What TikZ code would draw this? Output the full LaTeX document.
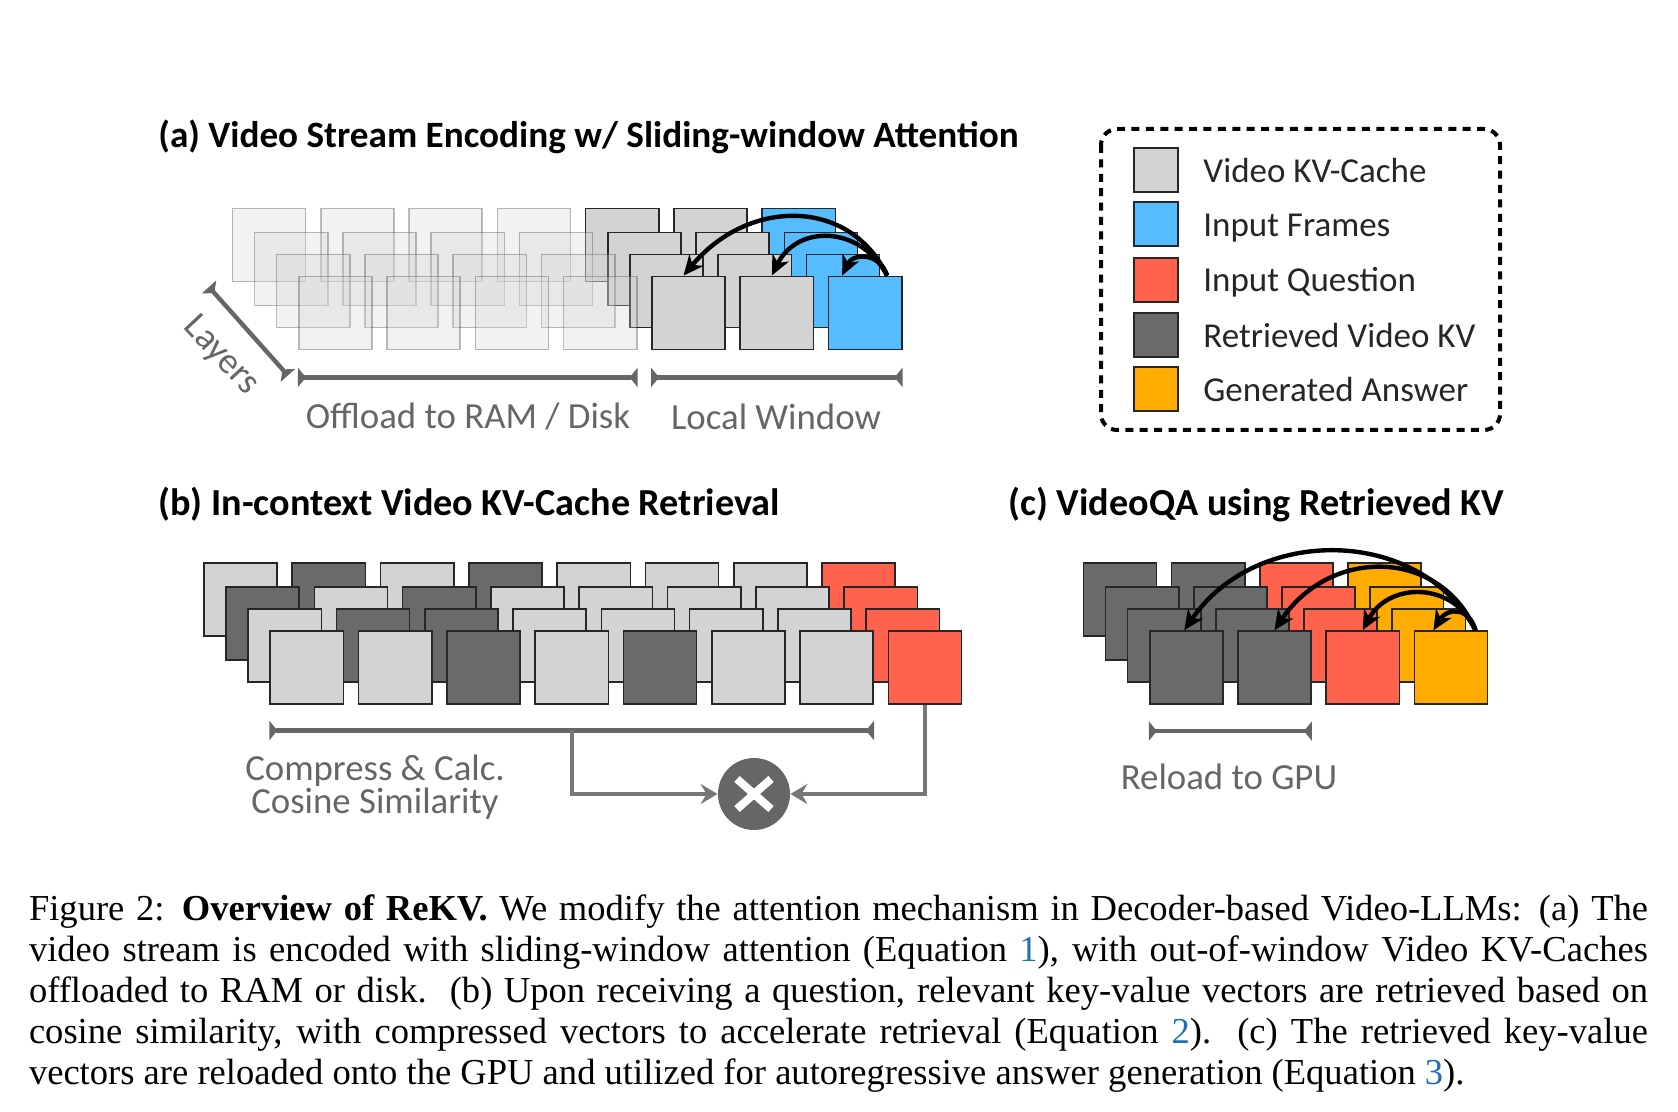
\documentclass[tikz,border=0pt]{standalone}
\usepackage{fontspec}
\usetikzlibrary{arrows.meta,calc}
\setmainfont{Liberation Serif}
\newfontfamily\gillfont{Carlito}
\definecolor{kvgray}{HTML}{D3D3D3}
\definecolor{inblue}{HTML}{55BDFF}
\definecolor{qred}{HTML}{FF634D}
\definecolor{kvdark}{HTML}{6A6A6A}
\definecolor{ansorange}{HTML}{FFAB00}
\definecolor{labelgray}{HTML}{666666}
\definecolor{linkgray}{HTML}{777777}
\definecolor{eqblue}{HTML}{1F6FB2}
\tikzset{
	frame/.style={draw=black!85,line width=.8pt,minimum width=36.6pt,minimum height=36.6pt,inner sep=0pt},
	faded/.style={frame,fill=kvgray,opacity=.3},
	swatch/.style={frame,minimum width=21.8pt,minimum height=21.8pt},
	paneltitle/.style={anchor=west,inner sep=0pt,font=\gillfont\fontsize{19.1}{21}\selectfont\bfseries},
	legendtext/.style={anchor=west,inner sep=0pt,text=black!85,font=\gillfont\fontsize{17.5}{20}\selectfont},
	graytext/.style={inner sep=0pt,text=labelgray,font=\gillfont\fontsize{18.4}{16.5}\selectfont},
	span/.style={draw=labelgray,line width=2.2pt,{Triangle[reversed,length=4pt,width=9.5pt]}-{Triangle[reversed,length=4pt,width=9.5pt]}},
	attn/.style={draw=black,line width=2.2pt,-{Stealth[length=10pt,width=9pt,inset=3pt]}},
	link/.style={draw=linkgray,line width=1.9pt,-{Stealth[length=8.5pt,width=10pt,inset=3pt]}}
}
\begin{document}
\begin{tikzpicture}[x=.5pt,y=-.5pt]
	\useasboundingbox (0,0) rectangle (1678,1112);
	%panel a
	\node[paneltitle,font=\gillfont\fontsize{18.6}{21}\selectfont\bfseries] (titlea) at (158,137) {(a) Video Stream Encoding w/ Sliding-window Attention};
	\foreach \l/\oy in {0/0,1/24,2/46,3/68}{
		\foreach \c in {0,...,3}
			\node[faded] (a\l\c) at ({269+22.1*\l+88.3*\c},245+\oy) {};
		\foreach \c/\col in {4/kvgray,5/kvgray,6/inblue}
			\node[frame,fill=\col] (a\l\c) at ({269+22.1*\l+88.3*\c},245+\oy) {};
	}
	\draw[attn] ([xshift=11pt]a36.north) .. controls +(-37,-78) and +(65,-78) .. ([xshift=-2.5pt]a34.north);
	\draw[attn] ([xshift=11pt]a36.north) .. controls +(-27,-51) and +(25,-51) .. ([xshift=-2.5pt]a35.north);
	\draw[attn] ([xshift=11pt]a36.north) .. controls +(-7,-23) and +(11,-23) .. ([xshift=-11.5pt]a36.north);
	\coordinate (layerstop) at (209,287);
	\draw[span] (layerstop) -- ([shift={(-5pt,-12.5pt)}]a30.south west);
	\draw[span] ([yshift=-13.5pt]a30.south west) -- ([yshift=-13.5pt]a33.south east);
	\draw[span] ([yshift=-13.5pt]a34.south west) -- ([yshift=-13.5pt]a36.south east);
	\node[graytext,rotate=-47] (layers) at (221,356) {Layers};
	\node[graytext] (offload) at (468,417) {Offload to RAM / Disk};
	\node[graytext] (window) at (776,417) {Local Window};
	%legend
	\draw[black,line width=2pt,dash pattern=on 4pt off 3.2pt,rounded corners=8pt] (1101,129) rectangle (1500,430);
	\foreach \n/\oy/\ty/\col/\txt in {k/170/170/kvgray/Video KV-Cache,i/224/228/inblue/Input Frames,q/280/282/qred/Input Question,r/335/335/kvdark/Retrieved Video KV,g/389/389/ansorange/Generated Answer}{
		\node[swatch,fill=\col] (leg\n) at (1156,\oy) {};
		\node[legendtext] (legtxt\n) at (1203,\ty) {\txt};
	}
	%panel b
	\node[paneltitle] (titleb) at (158,504) {(b) In-context Video KV-Cache Retrieval};
	\foreach \l/\oy/\row in {
		0/0/{kvgray,kvdark,kvgray,kvdark,kvgray,kvgray,kvgray,qred},
		1/24/{kvdark,kvgray,kvdark,kvgray,kvgray,kvgray,kvgray,qred},
		2/46/{kvgray,kvdark,kvdark,kvgray,kvgray,kvgray,kvgray,qred},
		3/68/{kvgray,kvgray,kvdark,kvgray,kvdark,kvgray,kvgray,qred}}{
		\foreach \col [count=\c from 0] in \row
			\node[frame,fill=\col] (b\l\c) at ({240.5+22.1*\l+88.3*\c},599.7+\oy) {};
	}
	\draw[span] ([yshift=-12.7pt]b30.south west) coordinate (spanl) -- ([yshift=-12.7pt]b36.south east) coordinate (spanr);
	\coordinate (spanmid) at ($(spanl)!.5!(spanr)$);
	\node[circle,fill=labelgray,minimum size=36pt,inner sep=0pt] (mul) at (754,794) {};
	\draw[white,line width=4pt] ([shift={(-8.5pt,-7.5pt)}]mul.center) -- ([shift={(8.5pt,7.5pt)}]mul.center);
	\draw[white,line width=4pt] ([shift={(-8.5pt,7.5pt)}]mul.center) -- ([shift={(8.5pt,-7.5pt)}]mul.center);
	\draw[link] (spanmid) |- (mul);
	\draw[link] (b37.south) |- (mul);
	\node[graytext,align=center] (compress) at (375,787) {Compress \& Calc.\\Cosine Similarity};
	%panel c
	\node[paneltitle] (titlec) at (1008,505) {(c) VideoQA using Retrieved KV};
	\foreach \l/\oy in {0/0,1/24,2/46,3/68}{
		\foreach \c/\col in {0/kvdark,1/kvdark,2/qred,3/ansorange}
			\node[frame,fill=\col] (c\l\c) at ({1120+22.1*\l+88.2*\c},599.7+\oy) {};
	}
	\draw[attn] ([xshift=12.3pt]c33.north) .. controls +(-56,-105) and +(71,-105) .. ([xshift=-1pt]c30.north);
	\draw[attn] ([xshift=12.3pt]c33.north) .. controls +(-36,-83) and +(55,-83) .. (c31.north);
	\draw[attn] ([xshift=12.3pt]c33.north) .. controls +(-21,-49) and +(26,-49) .. (c32.north);
	\draw[attn] ([xshift=12.3pt]c33.north) .. controls +(-6,-23) and +(14,-23) .. ([xshift=-8.75pt]c33.north);
	\draw[span] ([yshift=-13pt]c30.south west) -- ([yshift=-13pt]c31.south east);
	\node[graytext] (reload) at (1229,777) {Reload to GPU};
	%caption
	\node[text width=809.5pt,align=justify,inner sep=0pt,font=\fontsize{18.28}{20.5}\selectfont] (caption) at (838.5,994) {
		Figure 2: \textbf{Overview of ReKV.} We modify the attention mechanism in Decoder-based Video-LLMs: (a) The\linebreak
		video stream is encoded with sliding-window attention (Equation \textcolor{eqblue}{1}), with out-of-window Video KV-Caches\linebreak
		offloaded to RAM or disk.\ \ (b) Upon receiving a question, relevant key-value vectors are retrieved based on\linebreak
		cosine similarity, with compressed vectors to accelerate retrieval (Equation \textcolor{eqblue}{2}).\ \ (c) The retrieved key-value\linebreak
		vectors are reloaded onto the GPU and utilized for autoregressive answer generation (Equation \textcolor{eqblue}{3}).};
\end{tikzpicture}
\end{document}
